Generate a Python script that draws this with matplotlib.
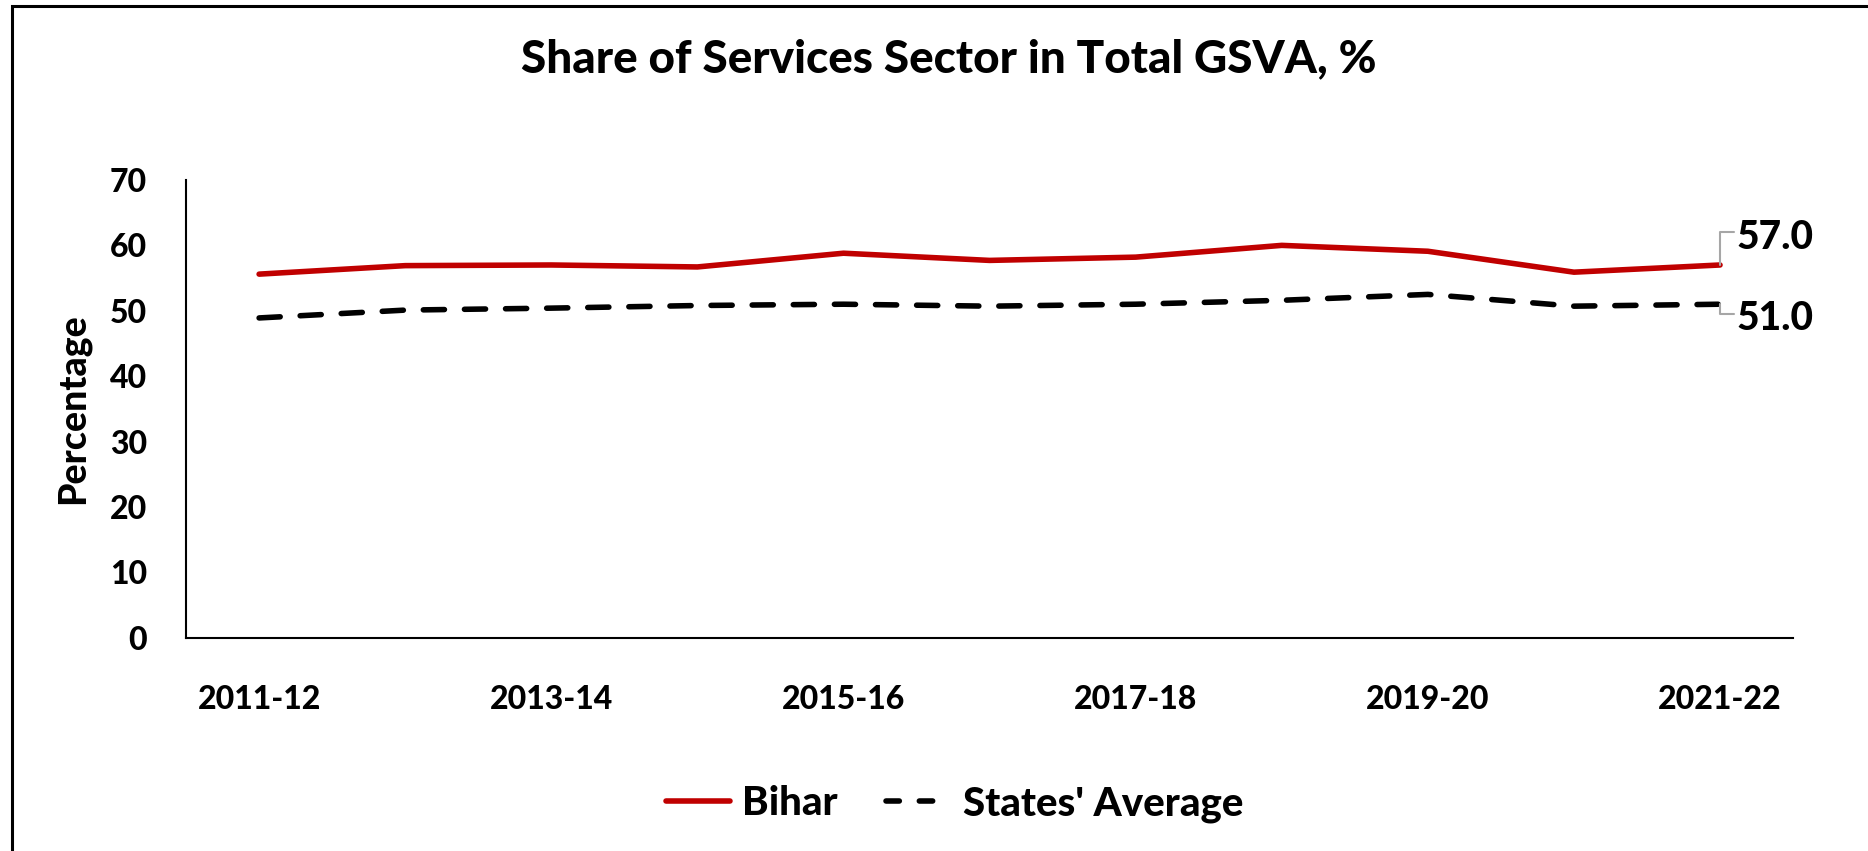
import matplotlib
matplotlib.use("Agg")
import matplotlib.pyplot as plt
from matplotlib.patches import Rectangle
from matplotlib.lines import Line2D

# data
years = ["2011-12", "2012-13", "2013-14", "2014-15", "2015-16", "2016-17",
         "2017-18", "2018-19", "2019-20", "2020-21", "2021-22"]
bihar = [55.6, 56.9, 57.0, 56.7, 58.8, 57.7, 58.2, 60.0, 59.1, 55.9, 57.0]
states_avg = [48.9, 50.1, 50.4, 50.8, 51.0, 50.7, 51.0, 51.6, 52.5, 50.7, 51.0]
yticks = [0, 10, 20, 30, 40, 50, 60, 70]

W = "black"
plt.rcParams["font.family"] = ["Lato", "DejaVu Sans"]
plt.rcParams["font.weight"] = W

fig = plt.figure(figsize=(18.68, 8.51), dpi=100)
ax = fig.add_axes([0.0996, 0.2507, 0.8603, 0.5378])

x = list(range(len(years)))
red = "#C00000"
ax.plot(x, bihar, color=red, lw=4.0, solid_capstyle="round", label="Bihar")
ax.plot(x, states_avg, color="black", lw=4.0, dashes=(3.8, 3.6),
        dash_capstyle="round", label="States' Average")

ax.set_xlim(-0.5, len(years) - 0.5)
ax.set_ylim(0, 70)
ax.set_yticks(yticks)
ax.set_yticklabels([str(v) for v in yticks])
ax.set_xticks(x[::2])
ax.set_xticklabels(years[::2])
ax.tick_params(axis="both", length=0, labelsize=23)
ax.tick_params(axis="y", pad=28)
ax.tick_params(axis="x", pad=34)

for s in ["top", "right"]:
    ax.spines[s].set_visible(False)
for s in ["left", "bottom"]:
    ax.spines[s].set_linewidth(1.5)

ax.set_ylabel("Percentage", fontsize=27, fontweight=W, labelpad=14)

# end labels with leader lines
leader = dict(arrowstyle="-", color="#a6a6a6", lw=1.5, shrinkA=0, shrinkB=0,
              connectionstyle="angle,angleA=0,angleB=90,rad=0")
ax.annotate(f"{bihar[-1]:.1f}", xy=(x[-1], bihar[-1]), xytext=(12, 20),
            textcoords="offset points", fontsize=28, fontweight=W,
            ha="left", va="center", arrowprops=dict(leader, relpos=(0, 0.65)))
ax.annotate(f"{states_avg[-1]:.1f}", xy=(x[-1], states_avg[-1]), xytext=(12, -10),
            textcoords="offset points", fontsize=28, fontweight=W,
            ha="left", va="center", arrowprops=dict(leader, relpos=(0, 0.6)))

fig.text(0.508, 0.93, "Share of Services Sector in Total GSVA, %",
         ha="center", va="center", fontsize=33, fontweight=W)

handles = [Line2D([], [], color=red, lw=4.0, solid_capstyle="round"),
           Line2D([], [], color="black", lw=4.0, dashes=(2.4, 3.6),
                  dash_capstyle="round")]
fig.legend(handles, ["Bihar", "States' Average"], loc="center",
           bbox_to_anchor=(0.511, 0.055), ncol=2, frameon=False,
           fontsize=29, handlelength=1.6, columnspacing=1.2, handletextpad=0.3)

# outer frame (cropped on the right and bottom)
fig.patches.append(Rectangle((0.0064, -0.5), 2.0, 1.4933, transform=fig.transFigure,
                             fill=False, edgecolor="black", lw=2.2))

fig.savefig("out.png", dpi=100)
